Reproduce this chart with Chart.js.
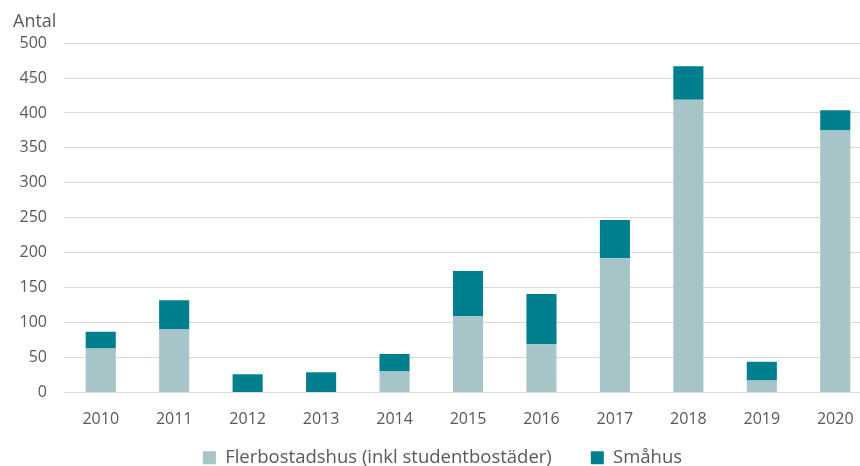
<!DOCTYPE html>
<html lang="sv">
<head>
  <meta charset="UTF-8" />
  <title>Antal</title>
  <script src="https://cdn.jsdelivr.net/npm/chart.js"></script>
  <style>
    body {
      margin: 0;
      padding: 0;
      background: #fff;
      overflow: hidden;
    }
    #wrap {
      width: 872px;
      height: 496px;
    }
  </style>
</head>
<body>
  <div id="wrap">
    <canvas id="grafico" width="872" height="496"></canvas>
  </div>

  <script>
    const ar = ['2010', '2011', '2012', '2013', '2014', '2015', '2016', '2017', '2018', '2019', '2020'];
    const flerbostadshus = [63, 90, 0, 0, 30, 109, 69, 192, 419, 17, 375];
    const smahus = [24, 42, 26, 29, 25, 65, 72, 55, 48, 27, 29];
    const yTicks = [0, 50, 100, 150, 200, 250, 300, 350, 400, 450, 500];

    const textFarg = '#595959';
    const font = "'Open Sans', sans-serif";

    // legenden har stort mellanrum i sidled, flytta upp den lite efter layout
    const flyttaLegend = {
      id: 'flyttaLegend',
      afterLayout(chart) {
        chart.legend.top -= 19;
        chart.legend.bottom -= 19;
      }
    };

    const ctx = document.getElementById('grafico').getContext('2d');
    new Chart(ctx, {
      type: 'bar',
      data: {
        labels: ar,
        datasets: [
          {
            label: 'Flerbostadshus (inkl studentbostäder)',
            data: flerbostadshus,
            backgroundColor: '#A7C4C9',
            barPercentage: 0.41,
            categoryPercentage: 1
          },
          {
            label: 'Småhus',
            data: smahus,
            backgroundColor: '#00808E',
            barPercentage: 0.41,
            categoryPercentage: 1
          }
        ]
      },
      options: {
        responsive: false,
        animation: false,
        devicePixelRatio: 1,
        layout: {
          padding: { left: 13, right: 0, top: 0, bottom: 0 }
        },
        plugins: {
          title: {
            display: true,
            text: 'Antal',
            align: 'start',
            color: textFarg,
            font: { family: font, size: 18, weight: 'normal' },
            padding: { top: 11, bottom: 10.5 }
          },
          legend: {
            position: 'bottom',
            labels: {
              color: textFarg,
              font: { family: font, size: 18.5 },
              boxWidth: 13,
              boxHeight: 13,
              padding: 39
            }
          },
          tooltip: { enabled: false }
        },
        scales: {
          x: {
            stacked: true,
            afterFit: function (scale) { scale.height = 36; },
            grid: { display: false, drawTicks: false },
            border: { display: false },
            ticks: {
              color: textFarg,
              font: { family: font, size: 16 },
              padding: 17,
              maxRotation: 0
            }
          },
          y: {
            stacked: true,
            min: yTicks[0],
            max: yTicks[yTicks.length - 1],
            afterFit: function (scale) { scale.width = 51; },
            afterBuildTicks: function (scale) {
              scale.ticks = yTicks.map(v => ({ value: v }));
            },
            grid: { color: '#D9D9D9', lineWidth: 1, drawTicks: false },
            border: { display: false },
            ticks: {
              color: textFarg,
              font: { family: font, size: 16 },
              padding: 17
            }
          }
        }
      },
      plugins: [flyttaLegend]
    });
  </script>
</body>
</html>
